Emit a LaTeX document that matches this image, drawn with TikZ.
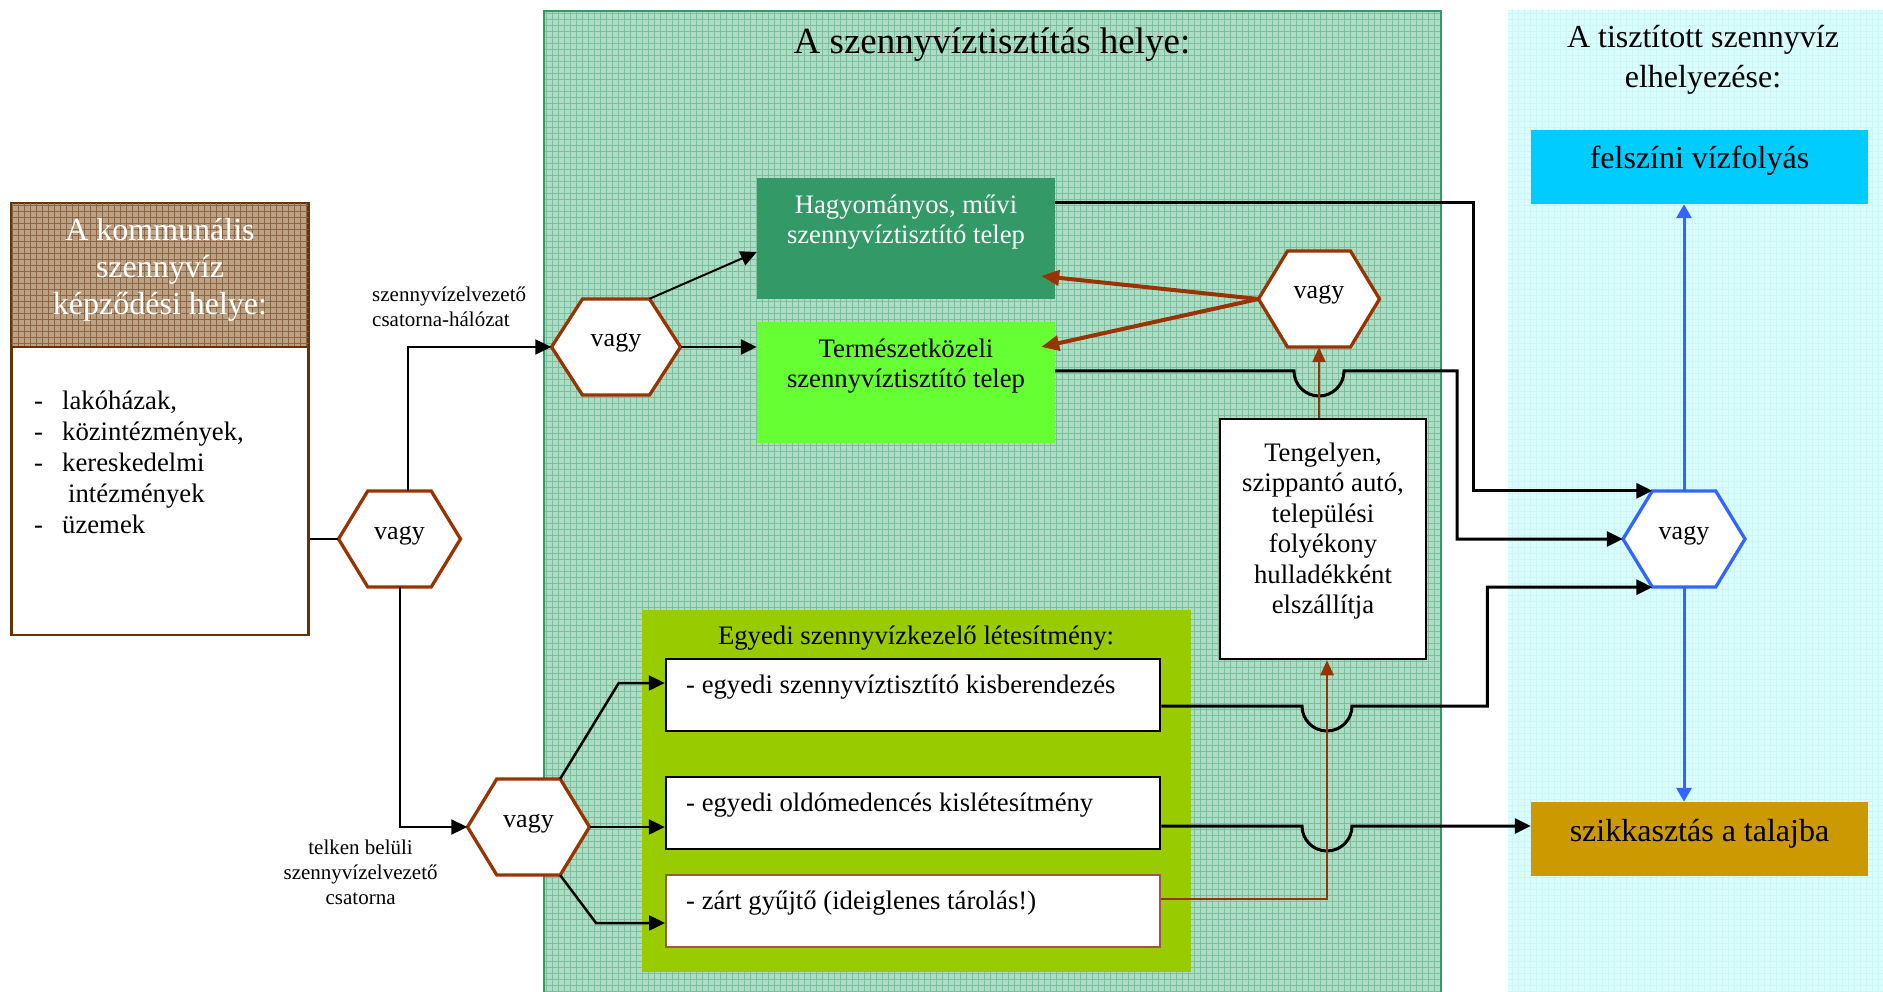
\documentclass[tikz,border=0pt]{standalone}
\usepackage{fontspec}
\setmainfont{Liberation Serif}
\usetikzlibrary{arrows.meta,patterns.meta,calc}
\definecolor{brn}{HTML}{993300}
\definecolor{dbrn}{HTML}{663300}
\definecolor{midfill}{HTML}{B0DCC6}
\definecolor{midgrid}{HTML}{7CBF9F}
\definecolor{midedge}{HTML}{339966}
\definecolor{cyfill}{HTML}{DCFDFD}
\definecolor{cygrid}{HTML}{CCF5F5}
\definecolor{hdfill}{HTML}{BCA284}
\definecolor{hdgrid}{HTML}{8A6646}
\definecolor{hagfill}{HTML}{339966}
\definecolor{termfill}{HTML}{66FF33}
\definecolor{egyfill}{HTML}{99CC00}
\definecolor{felfill}{HTML}{00CCFF}
\definecolor{szikfill}{HTML}{CC9900}
\definecolor{hblue}{HTML}{3366FF}
\definecolor{zartedge}{HTML}{9C5A3C}
\newcommand\fs[2]{\fontsize{#1}{#2}\selectfont}
\newcommand\myhex[5]{%
  \draw[hexline, draw=#4, shift={(#2)}] (-#3/2,0) -- (-#3/2+0.24*#3,-48) -- (#3/2-0.24*#3,-48) -- (#3/2,0) -- (#3/2-0.24*#3,48) -- (-#3/2+0.24*#3,48) -- cycle;
  \node[hexbox, minimum width=#3pt] (#1) at (#2) {#5};}
\begin{document}
\begin{tikzpicture}[x=1pt,y=-1pt,
  conn/.style={line width=2.5pt, line join=miter},
  tip/.style={-{Triangle[length=16pt,width=15pt]}},
  brtip/.style={-{Triangle[length=18pt,width=15pt]}},
  hexline/.style={line width=3.3pt, fill=white, line join=miter},
  hexbox/.style={rectangle, draw=none, minimum height=96pt, inner sep=0pt, text height=0pt, text depth=0pt, font=\fs{26}{30}},
  box/.style={rectangle, inner sep=0pt},
  txt/.style={inner sep=0pt, align=center, font=\fs{26.7}{30.5}},
  lbl/.style={inner sep=0pt, font=\fs{21}{25}},
  bigtxt/.style={inner sep=0pt, align=center, font=\fs{32}{40.5}}]
\useasboundingbox (0,0) rectangle (1883,992);

% background panels
\path[fill=midfill, postaction={pattern={Hatch[angle=0,distance=6pt,line width=1pt]}, pattern color=midgrid}] (544,11) rectangle (1441,1000);
\draw[midedge, line width=2.5pt] (544,1000) -- (544,11) -- (1441,11) -- (1441,1000);
\path[fill=cyfill, postaction={pattern={Hatch[angle=0,distance=6pt,line width=1pt]}, pattern color=cygrid}] (1508,10) rectangle (1890,1000);
\node[inner sep=0pt, font=\fs{37}{44}] (midtitle) at (992,45) {A szennyvíztisztítás helye:};
\node[bigtxt] (righttitle) at (1703,60) {A tisztított szennyvíz\\elhelyezése:};

% source box
\node[box, minimum width=297pt, minimum height=144pt, fill=hdfill, postaction={pattern={Hatch[angle=0,distance=6pt,line width=1pt]}, pattern color=hdgrid}, draw=dbrn, line width=2.5pt] (head) at (160,275) {};
\node[box, minimum width=297pt, minimum height=288pt, fill=white, draw=dbrn, line width=2.5pt] (src) at (160,491) {};
\node[txt, font=\fs{32}{37}, text=white] (headt) at (160,270) {A kommunális\\szennyvíz\\képződési helye:};
\node[anchor=north west, inner sep=0pt, align=left, font=\fs{26.7}{31}] (srclist) at (34,390.6)
  {\makebox[28pt][l]{-}lakóházak,\\\makebox[28pt][l]{-}közintézmények,\\\makebox[28pt][l]{-}kereskedelmi\\\hspace*{34pt}intézmények\\\makebox[28pt][l]{-}üzemek};

% treatment plants
\node[box, minimum width=298pt, minimum height=121pt, fill=hagfill] (hag) at (906,238.5) {};
\node[txt, text=white] (hagt) at (906,222) {Hagyományos, művi\\szennyvíztisztító telep};
\node[box, minimum width=298pt, minimum height=121pt, fill=termfill] (term) at (906,382.5) {};
\node[txt] (termt) at (906,366) {Természetközeli\\szennyvíztisztító telep};

% individual facilities
\node[box, minimum width=549pt, minimum height=362pt, fill=egyfill] (egy) at (916.5,791) {};
\node[txt] (egyt) at (916,638) {Egyedi szennyvízkezelő létesítmény:};
\node[box, draw=black, line width=2.5pt, fill=white, minimum width=494pt, minimum height=72pt] (kis) at (913,695) {};
\node[box, draw=black, line width=2.5pt, fill=white, minimum width=494pt, minimum height=72pt] (olds) at (913,813) {};
\node[box, draw=zartedge, line width=2pt, fill=white, minimum width=494pt, minimum height=72pt] (zart) at (913,911) {};
\node[txt, anchor=west] (kist) at (686,687) {- egyedi szennyvíztisztító kisberendezés};
\node[txt, anchor=west] (oldst) at (686,805) {- egyedi oldómedencés kislétesítmény};
\node[txt, anchor=west] (zartt) at (686,903) {- zárt gyűjtő (ideiglenes tárolás!)};

% transport box
\node[box, draw=black, line width=2.5pt, fill=white, minimum width=206pt, minimum height=240pt] (teng) at (1323,539) {};
\node[txt] (tengt) at (1323,531) {Tengelyen,\\szippantó autó,\\települési\\folyékony\\hulladékként\\elszállítja};

% destinations
\node[box, fill=felfill, minimum width=337pt, minimum height=74pt] (felsz) at (1699.5,167) {};
\node[bigtxt] (felszt) at (1699.5,161) {felszíni vízfolyás};
\node[box, fill=szikfill, minimum width=337pt, minimum height=73.5pt] (szik) at (1699.5,838.75) {};
\node[bigtxt] (szikt) at (1699.5,834) {szikkasztás a talajba};

% hexagons
\myhex{h1}{399.5,539}{122}{brn}{vagy}
\myhex{h2}{616,347}{129}{brn}{vagy}
\myhex{h3}{528.5,827}{122}{brn}{vagy}
\myhex{h4}{1319,299}{121}{brn}{vagy}
\myhex{hb}{1684,539}{122}{hblue}{vagy}

% labels
\node[lbl, anchor=west, align=left] (lbl1) at (372,307) {szennyvízelvezető\\csatorna-hálózat};
\node[lbl, align=center] (lbl2) at (360.6,872) {telken belüli\\szennyvízelvezető\\csatorna};

% left connectors
\draw[conn, line width=2pt] (h1.west -| src.east) -- (h1.west);
\draw[conn, line width=2pt, tip] ([xshift=8pt]h1.north) |- (h2.west);
\draw[conn, line width=2pt, tip] (h1.south) |- (h3.west);
\draw[conn, line width=2pt, tip] ($(h2.north)+(33.5,0)$) -- ($(hag.west)+(0,13.5)$);
\draw[conn, tip] (h2.east) -- (h2.east -| term.west);

\draw[conn, tip] ($(h3.north)+(31.7,0)$) -- ($(kis.west)+(-46,-12)$) -- ($(kis.west)+(0,-12)$);
\draw[conn, tip] (h3.east) -- (h3.east -| olds.west);
\draw[conn, tip] ($(h3.south)+(31.7,0)$) -- ($(zart.west)+(-69,12)$) -- ($(zart.west)+(0,12)$);

% right connectors with jumps
\coordinate (bx) at ($(teng.south)+(4,0)$);
\draw[conn, line width=3pt, tip] ($(hag.east)+(0,-35.5)$) -- ($(hag.east)+(418,-35.5)$) |- ($(hb.north)+(-31.7,0)$);
\draw[conn, line width=3pt, tip] ($(term.east)+(0,-11.5)$) -- ($(h4.south |- term.east)+(-25,-11.5)$) arc[start angle=180, end angle=0, radius=25] -- ($(term.east)+(402,-11.5)$) |- (hb.west);
\draw[conn, line width=3pt, tip] ($(kis.east)+(0,11)$) -- ($(bx |- kis.east)+(-25,11)$) arc[start angle=180, end angle=0, radius=25] -- ($(kis.east)+(326,11)$) |- ($(hb.south)+(-31.7,0)$);
\draw[conn, line width=3pt, tip] ($(olds.east)+(0,13)$) -- ($(bx |- olds.east)+(-25,13)$) arc[start angle=180, end angle=0, radius=25] -- ($(szik.west)+(0,-12.75)$);

% brown connectors
\draw[brn, line width=4pt, brtip] (h4.west) -- ($(hag.east)+(-14,37.5)$);
\draw[brn, line width=4pt, brtip] (h4.west) -- ($(term.east)+(-14,-35.5)$);
\draw[brn, line width=2.5pt, -{Triangle[length=15pt,width=13pt]}] (teng.north -| h4.south) -- (h4.south);
\draw[brn, line width=2.5pt, -{Triangle[length=15pt,width=13pt]}] ($(zart.east)+(0,-12)$) -| (bx);

% blue connectors
\draw[hblue, line width=3pt, -{Triangle[length=14pt,width=15pt]}] (hb.north) -- (hb.north |- felsz.south);
\draw[hblue, line width=3pt, -{Triangle[length=14pt,width=15pt]}] (hb.south) -- (hb.south |- szik.north);
\end{tikzpicture}
\end{document}
